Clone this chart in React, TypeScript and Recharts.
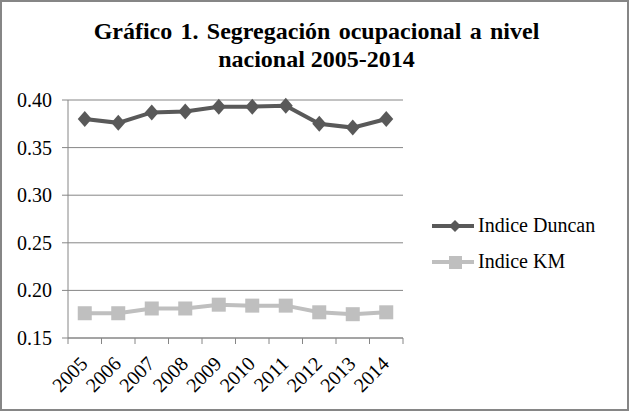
import React from 'react';
import { CartesianGrid, Line, LineChart, XAxis, YAxis } from 'recharts';

const years = ['2005', '2006', '2007', '2008', '2009', '2010', '2011', '2012', '2013', '2014'];
const duncan = [0.38, 0.376, 0.387, 0.388, 0.393, 0.393, 0.394, 0.375, 0.371, 0.38];
const km = [0.176, 0.176, 0.181, 0.181, 0.185, 0.184, 0.184, 0.177, 0.175, 0.177];
const yTicks = [0.15, 0.2, 0.25, 0.3, 0.35, 0.4];

const data = years.map((year, i) => ({ year, duncan: duncan[i], km: km[i] }));

const FONT = 'Liberation Serif, Times New Roman, serif';
const GRID = '#868686';
const DARK = '#595959';
const LIGHT = '#bfbfbf';
const STEP = 33.5;

const Diamond = ({ cx, cy }: any) =>
  cx == null ? null : (
    <polygon points={`${cx},${cy - 8} ${cx + 7},${cy} ${cx},${cy + 8} ${cx - 7},${cy}`} fill={DARK} />
  );

const Square = ({ cx, cy }: any) =>
  cx == null ? null : <rect x={cx - 7} y={cy - 7} width={14} height={14} fill={LIGHT} />;

// category ticks sit between the years, labels are turned 45 degrees
const YearTick = ({ x, y, payload, index }: any) => (
  <g>
    <line x1={x - STEP / 2} x2={x - STEP / 2} y1={y} y2={y + 6} stroke={GRID} />
    {index === years.length - 1 && (
      <line x1={x + STEP / 2} x2={x + STEP / 2} y1={y} y2={y + 6} stroke={GRID} />
    )}
    <text
      x={x + 4}
      y={y + 27}
      transform={`rotate(-45, ${x + 4}, ${y + 27})`}
      textAnchor="end"
      fontSize={20}
      fontFamily={FONT}
      fill="#000"
    >
      {payload.value}
    </text>
  </g>
);

const YTick = ({ x, y, payload }: any) => (
  <text x={x} y={y} dy={7} textAnchor="end" fontSize={20} fontFamily={FONT} fill="#000">
    {payload.value.toFixed(2)}
  </text>
);

const LegendItem = ({ top, color, marker, label }: any) => (
  <div style={{ position: 'absolute', left: 430, top, display: 'flex', alignItems: 'center' }}>
    <svg width={46} height={18}>
      <line x1={2} x2={44} y1={9} y2={9} stroke={color} strokeWidth={4} />
      {marker === 'diamond' ? (
        <polygon points="25,3 31,9 25,15 19,9" fill={color} />
      ) : (
        <rect x={19} y={3} width={13} height={13} fill={color} />
      )}
    </svg>
    <span style={{ fontFamily: FONT, fontSize: 20, marginLeft: 2, color: '#000' }}>{label}</span>
  </div>
);

export default function App() {
  return (
    <div
      style={{
        position: 'relative',
        width: 629,
        height: 411,
        background: '#fff',
        overflow: 'hidden',
        fontFamily: FONT,
      }}
    >
      <style>{'body{margin:0}'}</style>
      <div
        style={{
          position: 'absolute',
          top: 17,
          left: 2,
          width: 629,
          textAlign: 'center',
          fontWeight: 'bold',
          fontSize: 24,
          lineHeight: '28px',
          color: '#000',
        }}
      >
        <span style={{ wordSpacing: 2.3 }}>Gráfico 1. Segregación ocupacional a nivel</span>
        <br />
        nacional 2005-2014
      </div>
      <div style={{ position: 'absolute', left: 0, top: 0 }}>
        <LineChart width={629} height={411} data={data} margin={{ top: 100, right: 226, bottom: 0, left: 0 }}>
          <CartesianGrid vertical={false} stroke={GRID} />
          <XAxis
            dataKey="year"
            padding={{ left: STEP / 2, right: STEP / 2 }}
            stroke={GRID}
            tickLine={false}
            tickSize={0}
            tickMargin={0}
            interval={0}
            height={73}
            tick={<YearTick />}
          />
          <YAxis
            domain={[0.15, 0.4]}
            ticks={yTicks}
            width={68}
            stroke={GRID}
            tickSize={6}
            tickMargin={10}
            tick={<YTick />}
          />
          <Line dataKey="duncan" stroke={DARK} strokeWidth={4} dot={<Diamond />} isAnimationActive={false} />
          <Line dataKey="km" stroke={LIGHT} strokeWidth={4} dot={<Square />} isAnimationActive={false} />
        </LineChart>
      </div>
      <LegendItem top={214} color={DARK} marker="diamond" label="Indice Duncan" />
      <LegendItem top={250} color={LIGHT} marker="square" label="Indice KM" />
      <div
        style={{
          position: 'absolute',
          inset: 0,
          border: `2px solid ${GRID}`,
          pointerEvents: 'none',
        }}
      />
    </div>
  );
}
